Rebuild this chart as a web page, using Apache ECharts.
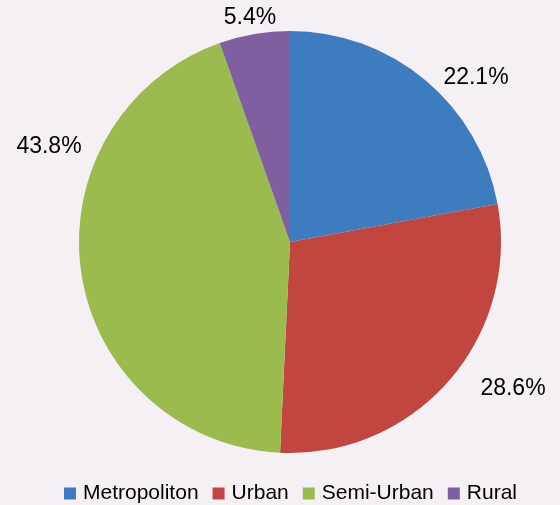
<!DOCTYPE html>
<html>
<head>
<meta charset="utf-8">
<script src="https://cdn.jsdelivr.net/npm/echarts@6/dist/echarts.min.js"></script>
<style>
  html, body { margin: 0; padding: 0; background: #f5f0f3; }
  #chart { width: 560px; height: 505px; }
</style>
</head>
<body>
<div id="chart"></div>
<script>
// data
const categories = ['Metropoliton', 'Urban', 'Semi-Urban', 'Rural'];
const shares = [22.1, 28.6, 43.8, 5.4];
const colors = ['#3d7cbf', '#c0463f', '#9bbb4f', '#7f5f9f'];
// where the data labels sit (label centres, px)
const labelPos = [[476, 78], [513, 389], [49, 147], [250, 18]];

let chart = echarts.init(document.getElementById('chart'));
let pieData = [];
for (let i = 0; i < categories.length; i++) {
    pieData.push({ name: categories[i], value: shares[i] });
}
let option = {
    backgroundColor: '#f5f0f3',
    animation: false,
    color: colors,
    textStyle: {
        fontFamily: 'Liberation Sans, Arial, sans-serif'
    },
    legend: {
        data: categories,
        top: 478,
        left: 59,
        icon: 'rect',
        itemWidth: 12,
        itemHeight: 12,
        itemGap: 14,
        textStyle: {
            color: '#000',
            fontSize: 21,
            padding: [0, 0, 0, 2]
        }
    },
    series: [{
        type: 'pie',
        center: [290, 242],
        radius: 211,
        startAngle: 90,
        clockwise: true,
        data: pieData,
        itemStyle: {
            borderWidth: 0
        },
        label: {
            show: true,
            position: 'inside',
            formatter: function (p) {
                return p.value.toFixed(1) + '%';
            },
            color: '#000',
            fontSize: 23
        },
        labelLine: {
            show: false
        },
        labelLayout: function (params) {
            let pos = labelPos[params.dataIndex];
            return {
                x: pos[0],
                y: pos[1],
                align: 'center',
                verticalAlign: 'middle'
            };
        }
    }]
};
chart.setOption(option);
</script>
</body>
</html>
